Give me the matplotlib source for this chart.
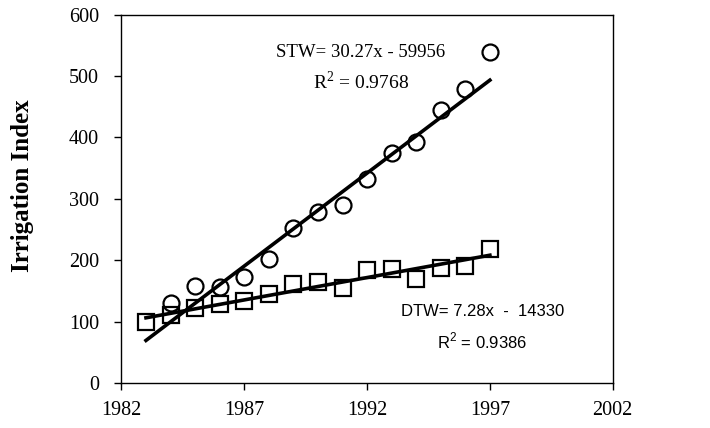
# Irrigation index trend: shallow (STW) vs deep (DTW) tube wells
import matplotlib.pyplot as plt
import numpy as np

FIG_WIDTH: float = 7.1
FIG_HEIGHT: float = 4.28
SERIF_FONT: str = "Liberation Serif"
SANS_FONT: str = "Liberation Sans"

years_stw = [1984, 1985, 1986, 1987, 1988, 1989, 1990, 1991, 1992, 1993, 1994, 1995, 1996, 1997]
stw_index = [130, 158, 157, 172, 202, 253, 279, 290, 332, 374, 393, 445, 478, 539]
years_dtw = [1983, 1984, 1985, 1986, 1987, 1988, 1989, 1990, 1991, 1992, 1993, 1994, 1995, 1996, 1997]
dtw_index = [100, 111, 122, 129, 134, 145, 161, 165, 154, 184, 185, 170, 188, 190, 218]

# trend line coefficients as printed on the chart
stw_fit = (30.27, -59956)
dtw_fit = (7.28, -14330)
fit_years = [1983, 1997]

X_TICKS = [1982, 1987, 1992, 1997, 2002]
Y_TICKS = [0, 100, 200, 300, 400, 500, 600]

plt.rc("font", family="serif", serif=[SERIF_FONT], size=14.5)
plt.rc("mathtext", fontset="custom", rm=SERIF_FONT, sf=SANS_FONT)
fig = plt.figure(figsize=(FIG_WIDTH, FIG_HEIGHT), dpi=100)
ax = fig.add_axes([0.171, 0.105, 0.692, 0.861])

ax.plot(years_stw, stw_index, linestyle="none", marker="o", markersize=11.5,
        markerfacecolor="none", markeredgecolor="black", markeredgewidth=1.6)
ax.plot(years_dtw, dtw_index, linestyle="none", marker="s", markersize=12,
        markerfacecolor="none", markeredgecolor="black", markeredgewidth=1.6)

fx = np.array(fit_years)
ax.plot(fx, stw_fit[0] * fx + stw_fit[1], color="black", linewidth=2.6)
ax.plot(fx, dtw_fit[0] * fx + dtw_fit[1], color="black", linewidth=2.6)

ax.text(1991.75, 539, "STW= 30.27x - 59956", ha="center", va="center", fontsize=13.5)
ax.text(1991.75, 491, r"R$^{\mathrm{2}}$ = 0.9768", ha="center", va="center", fontsize=14)
ax.text(1996.7, 116, "DTW= 7.28x  -  14330", ha="center", va="center",
        fontsize=12, family=SANS_FONT)
ax.text(1996.7, 69, r"R$^{\mathsf{2}}$ = 0.9386", ha="center", va="center",
        fontsize=12, family=SANS_FONT)

ax.set_xlim(X_TICKS[0], X_TICKS[-1])
ax.set_ylim(Y_TICKS[0], Y_TICKS[-1])
ax.set_xticks(X_TICKS)
ax.set_yticks(Y_TICKS)
ax.tick_params(direction="out", length=5, width=1)
ax.tick_params(axis="x", pad=8)
ax.tick_params(axis="y", pad=11)
for spine in ax.spines.values():
    spine.set_linewidth(1)
ax.set_ylabel("Irrigation Index", fontweight="bold", fontsize=18)
ax.yaxis.set_label_coords(-0.178, 0.535)

plt.savefig("out.png", dpi=100)
